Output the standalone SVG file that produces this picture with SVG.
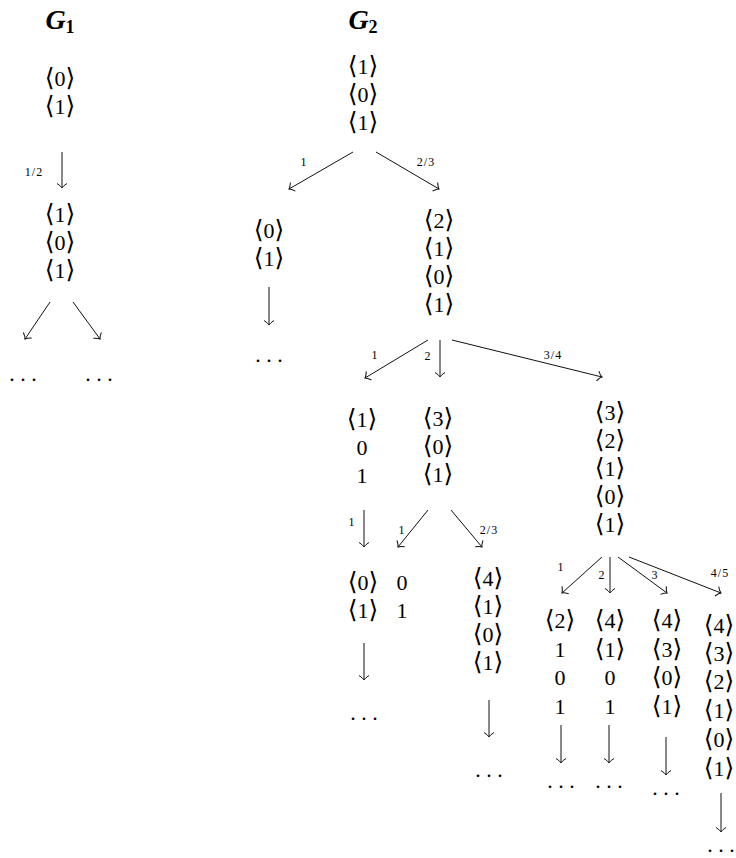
<svg xmlns="http://www.w3.org/2000/svg" width="736" height="858" viewBox="0 0 736 858">
<style>
text{font-family:"Liberation Serif","DejaVu Serif",serif;fill:#000}
.n text{font-size:25px;text-anchor:middle;font-family:"DejaVu Serif","DejaVu Sans",serif}
.n tspan,.n text.d{font-family:"Liberation Serif",serif;font-size:22px}
.lbl{font-size:12px;text-anchor:middle;letter-spacing:1px}
.ttl{font-size:28px;font-weight:bold;font-style:italic;text-anchor:middle}
.sub{font-size:18px;font-style:normal}
.e line{stroke:#111;stroke-width:1;fill:none;marker-end:url(#ah)}
</style>
<defs>
<marker id="ah" markerUnits="userSpaceOnUse" markerWidth="14" markerHeight="14" viewBox="-7 -7 14 14" refX="0" refY="0" orient="auto">
<path d="M-4.5,-5 C-2.5,-2 -1,-0.5 0,0 C-1,0.5 -2.5,2 -4.5,5" fill="none" stroke="#111" stroke-width="1"/>
</marker>
</defs>
<rect width="736" height="858" fill="#fff"/>
<text class="ttl" x="60" y="29">G<tspan class="sub" dy="4">1</tspan></text>
<text class="ttl" x="363" y="29">G<tspan class="sub" dy="4">2</tspan></text>
<g id="g1n1" class="n"><text x="60" y="86">⟨<tspan>0</tspan>⟩</text><text x="60" y="114">⟨<tspan>1</tspan>⟩</text></g>
<g id="g1n2" class="n"><text x="60" y="222">⟨<tspan>1</tspan>⟩</text><text x="60" y="250">⟨<tspan>0</tspan>⟩</text><text x="60" y="278">⟨<tspan>1</tspan>⟩</text></g>
<g id="g1d1" class="n"><text class="d" x="23" y="381">. . .</text></g>
<g id="g1d2" class="n"><text class="d" x="99" y="381">. . .</text></g>
<g id="g2n0" class="n"><text x="363" y="74">⟨<tspan>1</tspan>⟩</text><text x="363" y="102">⟨<tspan>0</tspan>⟩</text><text x="363" y="130">⟨<tspan>1</tspan>⟩</text></g>
<g id="g2a" class="n"><text x="269" y="238">⟨<tspan>0</tspan>⟩</text><text x="269" y="266">⟨<tspan>1</tspan>⟩</text></g>
<g id="g2ad" class="n"><text class="d" x="269" y="362">. . .</text></g>
<g id="g2b" class="n"><text x="439" y="228">⟨<tspan>2</tspan>⟩</text><text x="439" y="256">⟨<tspan>1</tspan>⟩</text><text x="439" y="284">⟨<tspan>0</tspan>⟩</text><text x="439" y="312">⟨<tspan>1</tspan>⟩</text></g>
<g id="nA" class="n"><text x="362" y="427">⟨<tspan>1</tspan>⟩</text><text class="d" x="362" y="455">0</text><text class="d" x="362" y="483">1</text></g>
<g id="nB" class="n"><text x="438" y="426">⟨<tspan>3</tspan>⟩</text><text x="438" y="454">⟨<tspan>0</tspan>⟩</text><text x="438" y="482">⟨<tspan>1</tspan>⟩</text></g>
<g id="nC" class="n"><text x="610" y="420">⟨<tspan>3</tspan>⟩</text><text x="610" y="448">⟨<tspan>2</tspan>⟩</text><text x="610" y="476">⟨<tspan>1</tspan>⟩</text><text x="610" y="504">⟨<tspan>0</tspan>⟩</text><text x="610" y="532">⟨<tspan>1</tspan>⟩</text></g>
<g id="nA1" class="n"><text x="363" y="590">⟨<tspan>0</tspan>⟩</text><text x="363" y="618">⟨<tspan>1</tspan>⟩</text></g>
<g id="nA1d" class="n"><text class="d" x="364" y="720">. . .</text></g>
<g id="nB1" class="n"><text class="d" x="402" y="590">0</text><text class="d" x="402" y="618">1</text></g>
<g id="nB2" class="n"><text x="488" y="586">⟨<tspan>4</tspan>⟩</text><text x="488" y="614">⟨<tspan>1</tspan>⟩</text><text x="488" y="642">⟨<tspan>0</tspan>⟩</text><text x="488" y="670">⟨<tspan>1</tspan>⟩</text></g>
<g id="nB2d" class="n"><text class="d" x="489" y="777">. . .</text></g>
<g id="nD" class="n"><text x="560" y="628">⟨<tspan>2</tspan>⟩</text><text class="d" x="560" y="657">1</text><text class="d" x="560" y="685">0</text><text class="d" x="560" y="714">1</text></g>
<g id="nDd" class="n"><text class="d" x="561" y="788">. . .</text></g>
<g id="nE" class="n"><text x="610" y="628">⟨<tspan>4</tspan>⟩</text><text x="610" y="657">⟨<tspan>1</tspan>⟩</text><text class="d" x="610" y="685">0</text><text class="d" x="610" y="714">1</text></g>
<g id="nEd" class="n"><text class="d" x="609" y="788">. . .</text></g>
<g id="nF" class="n"><text x="667" y="628">⟨<tspan>4</tspan>⟩</text><text x="667" y="657">⟨<tspan>3</tspan>⟩</text><text x="667" y="685">⟨<tspan>0</tspan>⟩</text><text x="667" y="714">⟨<tspan>1</tspan>⟩</text></g>
<g id="nFd" class="n"><text class="d" x="666" y="795">. . .</text></g>
<g id="nG" class="n"><text x="719" y="633">⟨<tspan>4</tspan>⟩</text><text x="719" y="661">⟨<tspan>3</tspan>⟩</text><text x="719" y="689">⟨<tspan>2</tspan>⟩</text><text x="719" y="718">⟨<tspan>1</tspan>⟩</text><text x="719" y="747">⟨<tspan>0</tspan>⟩</text><text x="719" y="776">⟨<tspan>1</tspan>⟩</text></g>
<g id="nGd" class="n"><text class="d" x="721" y="852">. . .</text></g>
<g id="connectors" class="e">
<line x1="62" y1="152" x2="62" y2="188"/>
<line x1="50" y1="302" x2="25" y2="339"/>
<line x1="73" y1="302" x2="100" y2="339"/>
<line x1="353" y1="152" x2="289" y2="189"/>
<line x1="376" y1="152" x2="439" y2="189"/>
<line x1="269" y1="287" x2="269" y2="325"/>
<line x1="428" y1="340" x2="365" y2="378"/>
<line x1="440" y1="340" x2="440" y2="377"/>
<line x1="452" y1="340" x2="602" y2="377"/>
<line x1="364" y1="510" x2="364" y2="547"/>
<line x1="428" y1="510" x2="398" y2="547"/>
<line x1="451" y1="510" x2="482" y2="547"/>
<line x1="364" y1="643" x2="364" y2="680"/>
<line x1="489" y1="700" x2="489" y2="737"/>
<line x1="602" y1="557" x2="562" y2="593"/>
<line x1="610" y1="557" x2="610" y2="593"/>
<line x1="618" y1="557" x2="667" y2="593"/>
<line x1="629" y1="557" x2="721" y2="593"/>
<line x1="561" y1="725" x2="561" y2="763"/>
<line x1="609" y1="725" x2="609" y2="763"/>
<line x1="666" y1="737" x2="666" y2="775"/>
<line x1="721" y1="793" x2="721" y2="832"/>
</g>
<g id="labels">
<text class="lbl" x="34" y="176">1/2</text>
<text class="lbl" x="304" y="166">1</text>
<text class="lbl" x="426" y="166">2/3</text>
<text class="lbl" x="375" y="359">1</text>
<text class="lbl" x="428" y="360">2</text>
<text class="lbl" x="553" y="359">3/4</text>
<text class="lbl" x="352" y="526">1</text>
<text class="lbl" x="402" y="534">1</text>
<text class="lbl" x="489" y="534">2/3</text>
<text class="lbl" x="561" y="571">1</text>
<text class="lbl" x="602" y="579">2</text>
<text class="lbl" x="655" y="579">3</text>
<text class="lbl" x="720" y="577">4/5</text>
</g>
</svg>
